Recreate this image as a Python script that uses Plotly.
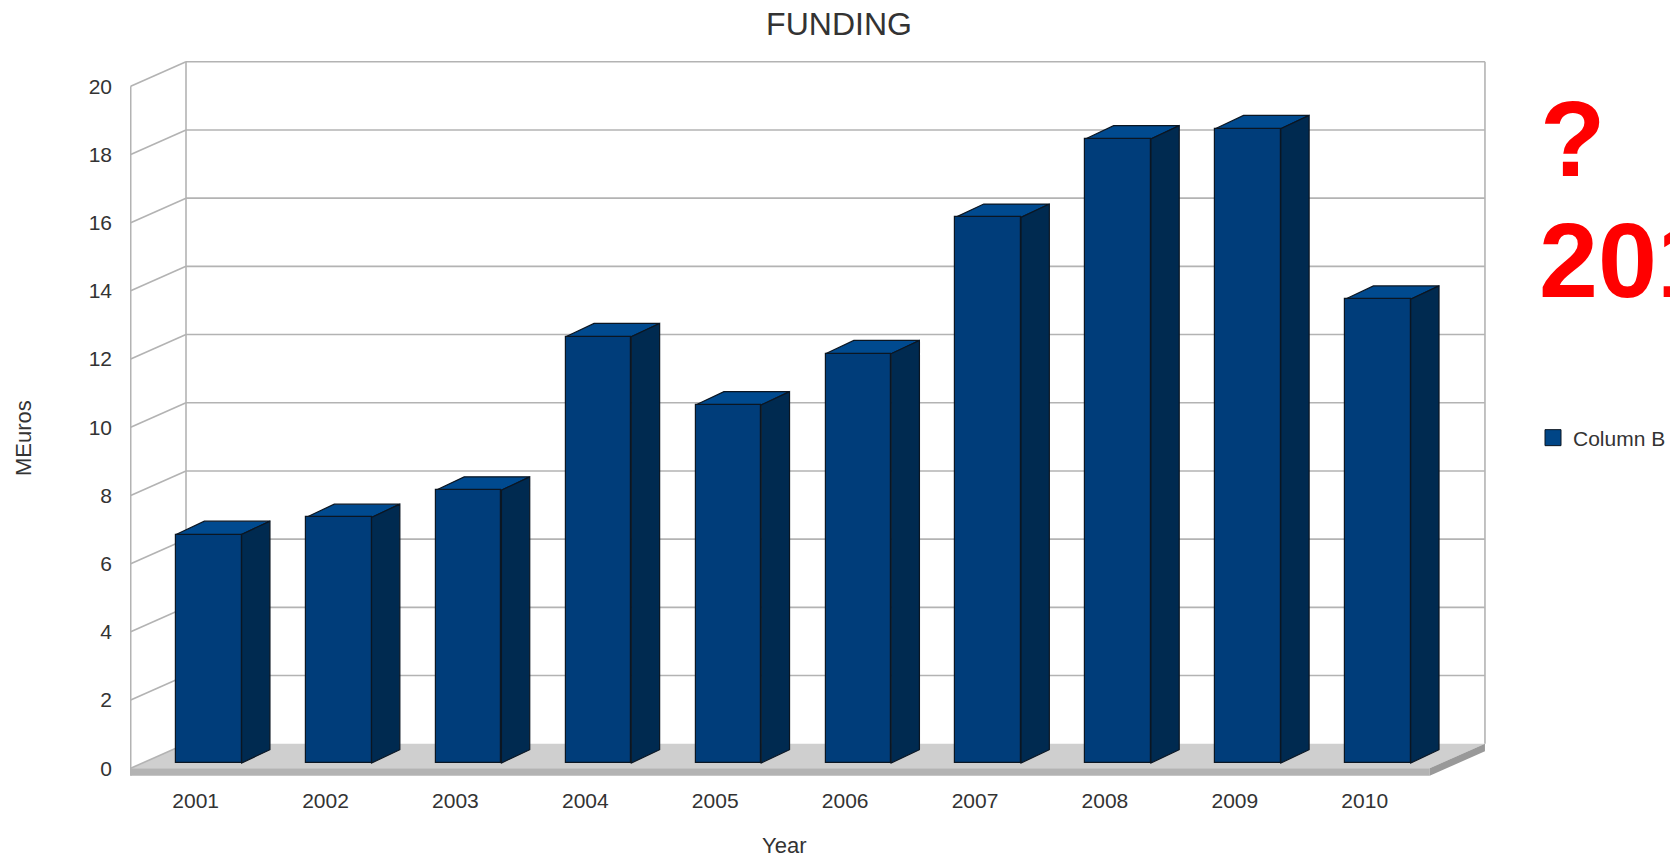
import plotly.graph_objects as go

# ---------------- data ----------------
years = ["2001", "2002", "2003", "2004", "2005", "2006", "2007", "2008", "2009", "2010"]
funding = [6.7, 7.2, 8.0, 12.5, 10.5, 12.0, 16.0, 18.3, 18.6, 13.6]
y_ticks = [0, 2, 4, 6, 8, 10, 12, 14, 16, 18, 20]
series_name = "Column B"
chart_title = "FUNDING"
y_title = "MEuros"
x_title = "Year"
note_lines = ["?", "2011"]

# ---------------- geometry / style ----------------
W, H = 1670, 858
ML, MR, MT, MB = 130, 184, 61, 80
DX, DY = 0.4257, 0.7185      # depth of the 3D box in axis units
SLAB = 0.22                   # floor thickness
BASE = 0.155                  # bar base (floor offset of bar front)
BAR_OFF, BAR_W = -0.151, 0.505
BDX, BDY = 0.218, 0.39        # bar depth

FRONT = "#003d7a"
TOP = "#004a8f"
SIDE = "#002a50"
EDGE = "#0b1622"
GRID = "#b3b3b3"
TXT = "#333333"
FONT = "Liberation Sans"

n = len(years)
xs = list(range(n))
x_lo, x_hi = -0.5054, n - 0.5 + DX + 0.008
y_hi = max(y_ticks) + DY + 0.022
plot_h = H - MT - MB
y_lo = y_hi - plot_h / 34.1

shapes = []


def seg(x0, y0, x1, y1, color=GRID, w=1.6):
    shapes.append(dict(type="line", xref="x", yref="y", x0=x0, y0=y0, x1=x1, y1=y1,
                       line=dict(color=color, width=w), layer="below"))


def poly(pts, fill, edge=None, w=0):
    path = "M" + "L".join(f"{x},{y}" for x, y in pts) + "Z"
    shapes.append(dict(type="path", xref="x", yref="y", path=path, fillcolor=fill,
                       line=dict(color=edge if edge else fill, width=w), layer="below"))


xl, xr = -0.5, n - 0.5
# floor
poly([(xl, 0), (xr, 0), (xr + DX, DY), (xl + DX, DY)], "#cfcfcf")
poly([(xl, 0), (xr, 0), (xr, -SLAB), (xl, -SLAB)], "#b3b3b3")
poly([(xr, 0), (xr + DX, DY), (xr + DX, DY - SLAB), (xr, -SLAB)], "#999999")

# back wall grid & left wall diagonals
top = max(y_ticks)
for v in y_ticks:
    if v > 0:
        seg(xl + DX, v + DY, xr + DX, v + DY)
    seg(xl, v, xl + DX, v + DY)
seg(xl + DX, DY, xl + DX, top + DY)
seg(xr + DX, DY, xr + DX, top + DY)
seg(xl, -SLAB, xl, top)

# bar tops and sides
for i, v in enumerate(funding):
    x0 = i + BAR_OFF
    x1 = x0 + BAR_W
    t = BASE + v
    poly([(x0, t), (x0 + BDX, t + BDY), (x1 + BDX, t + BDY), (x1, t)], TOP, EDGE, 1.2)
    poly([(x1, BASE), (x1, t), (x1 + BDX, t + BDY), (x1 + BDX, BASE + BDY)], SIDE, EDGE, 1.2)

fig = go.Figure()
fig.add_trace(go.Bar(
    x=xs, y=funding, base=BASE, offset=BAR_OFF, width=BAR_W,
    marker=dict(color=FRONT, line=dict(color=EDGE, width=1.2)),
    name=series_name, showlegend=False,
))
fig.add_trace(go.Scatter(
    x=[None], y=[None], mode="markers", name=series_name,
    marker=dict(symbol="square", size=16, color="#004586", line=dict(color=EDGE, width=1)),
))


# screen pixel -> paper coordinates
def px(xp):
    return (xp - ML) / (W - ML - MR)


def py(yp):
    return (H - MB - yp) / (H - MT - MB)


annotations = [
    dict(text=y_title, x=px(23), y=py(438), xref="paper", yref="paper", showarrow=False,
         textangle=-90, font=dict(size=22, color=TXT, family=FONT), xanchor="center", yanchor="middle"),
    dict(text=x_title, x=px(784), y=py(845), xref="paper", yref="paper", showarrow=False,
         font=dict(size=22, color=TXT, family=FONT), xanchor="center", yanchor="middle"),
    dict(text=f"<b>{note_lines[0]}</b>", x=px(1538), y=py(139), xref="paper", yref="paper", showarrow=False,
         font=dict(size=107, color="#ff0000", family=FONT), xanchor="left", yanchor="middle"),
    dict(text=f"<b>{note_lines[1]}</b>", x=px(1537), y=py(260), xref="paper", yref="paper", showarrow=False,
         font=dict(size=106, color="#ff0000", family=FONT), xanchor="left", yanchor="middle"),
]

fig.update_layout(
    width=W, height=H,
    margin=dict(l=ML, r=MR, t=MT, b=MB, autoexpand=False),
    paper_bgcolor="white", plot_bgcolor="white",
    title=dict(text=chart_title, x=px(839), xref="paper", xanchor="center",
               y=1 - 24 / H, yref="container", yanchor="middle",
               font=dict(size=32, color=TXT, family=FONT)),
    font=dict(family=FONT, color=TXT),
    xaxis=dict(range=[x_lo, x_hi], tickvals=xs, ticktext=years, showgrid=False, zeroline=False,
               showline=False, ticks="", ticklabelstandoff=8, tickfont=dict(size=21, color=TXT, family=FONT)),
    yaxis=dict(range=[y_lo, y_hi], tickvals=y_ticks, showgrid=False, zeroline=False,
               showline=False, ticks="", ticklabelstandoff=17, tickfont=dict(size=21, color=TXT, family=FONT)),
    legend=dict(x=px(1533), y=py(438), xref="paper", yref="paper", xanchor="left", yanchor="middle",
                font=dict(size=21, color=TXT, family=FONT), bgcolor="rgba(0,0,0,0)"),
    showlegend=True,
    shapes=shapes,
    annotations=annotations,
    bargap=0,
)

fig.write_html("out.html", config={"displayModeBar": False},
               post_script="document.body.style.margin='0px';")
